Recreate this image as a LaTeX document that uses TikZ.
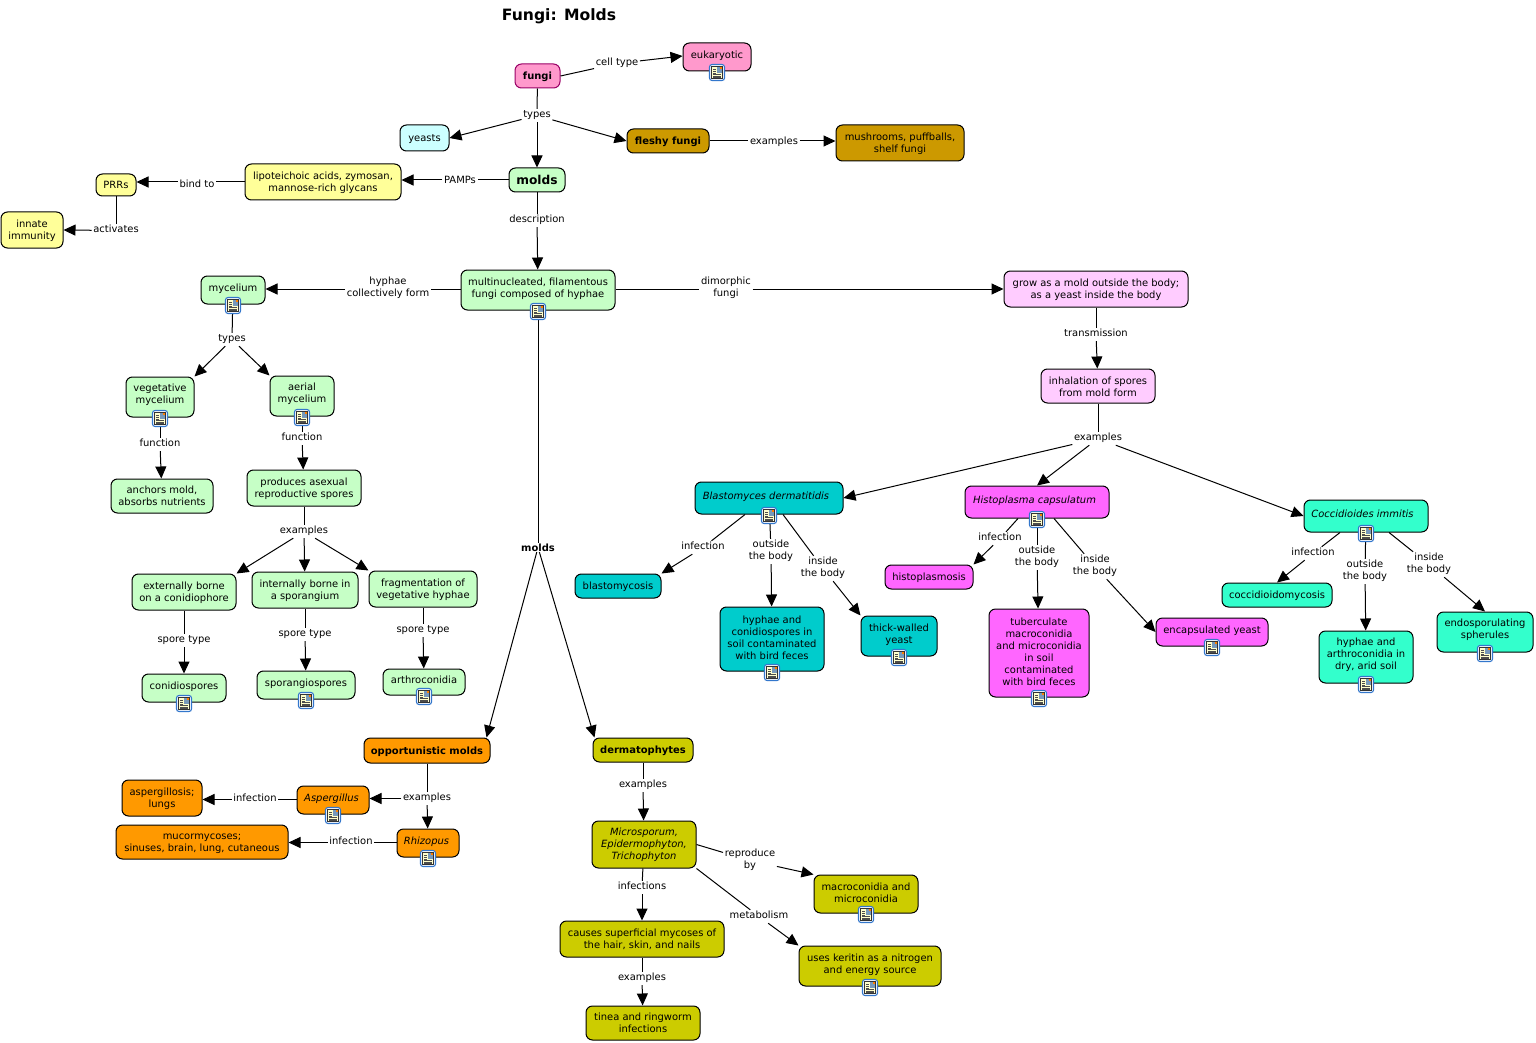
\documentclass[tikz,border=0pt]{standalone}
\usepackage{fontspec}
\setmainfont{DejaVu Sans}
\usetikzlibrary{arrows.meta,calc}
\definecolor{cpink}{HTML}{FF99CC}
\definecolor{cgreen}{HTML}{C6FFC6}
\definecolor{cyel}{HTML}{FFFF99}
\definecolor{ccyan}{HTML}{CCFFFF}
\definecolor{cgold}{HTML}{CC9900}
\definecolor{clil}{HTML}{FFCCFF}
\definecolor{cteal}{HTML}{00CCCC}
\definecolor{cmag}{HTML}{FF66FF}
\definecolor{cmint}{HTML}{33FFCC}
\definecolor{corg}{HTML}{FF9900}
\definecolor{coli}{HTML}{CCCC00}
\definecolor{icb}{HTML}{3377CC}
\definecolor{icy}{HTML}{FFFFCC}
\definecolor{icp}{HTML}{7799BB}
\newcommand\bodyfont{\fontsize{9.95}{12}\selectfont}
% extra room under the text of a box with an icon, over the text of one without
\newcommand\rs{1.5pt}
\newcommand\ls{2pt}
\tikzset{
 box/.style={draw=black,line width=1pt,rounded corners=6.5pt,inner sep=0pt,font=\bodyfont,text=black},
 lab/.style={inner xsep=1.5pt,inner ysep=0.5pt,yshift=-1.5pt,font=\bodyfont,text=black},
 plain/.style={draw=black,line width=1pt},
 arr/.style={draw=black,line width=1pt,-{Triangle[length=12pt,width=11pt]}},
 docicon/.pic={
  \draw[icb,fill=white,line width=1.1pt,rounded corners=2.5pt] (-7.5,-8) rectangle (7.5,8);
  \draw[black!80,fill=icy,line width=.6pt] (-5.3,-6) rectangle (5.3,6);
  \fill[icp] (-0.3,-5.3) rectangle (4.7,0.3);
  \fill[orange] (2.7,-5.3) rectangle (4.7,-3.3);
  \foreach \yy in {-3.6,-1.6,0.4}{\draw[black!70,line width=.5pt] (-4,\yy) -- (-1,\yy);}
  \foreach \yy in {2,3.5,5}{\draw[black!70,line width=.5pt] (-4,\yy) -- (4,\yy);}
 }
}
\newcommand\nd[7][]{%
 \pgfmathsetmacro\cx{(#3+#5)/2}\pgfmathsetmacro\cy{(#4+#6)/2}%
 \pgfmathsetmacro\ww{#5-#3}\pgfmathsetmacro\hh{#6-#4}%
 \node[box,minimum width=\ww pt,minimum height=\hh pt,#1] (#2) at (\cx,\cy) {\raisebox{0pt}[\dimexpr\height+\ls\relax][\depth]{\begin{tabular}{@{}c@{}}#7\end{tabular}}};}
\newcommand\ndi[7][]{%
 \pgfmathsetmacro\cx{(#3+#5)/2}\pgfmathsetmacro\cy{(#4+#6)/2}%
 \pgfmathsetmacro\ww{#5-#3}\pgfmathsetmacro\hh{#6-#4}%
 \node[box,minimum width=\ww pt,minimum height=\hh pt,#1] (#2) at (\cx,\cy) {\raisebox{0pt}[\height][\dimexpr\depth+\rs\relax]{\begin{tabular}{@{}c@{}}#7\end{tabular}}};}
\newcommand\lb[4]{\node[lab] (#1) at (#2,#3) {\begin{tabular}{@{}c@{}}#4\end{tabular}};}
\newcommand\ico[1]{\pic at ($(#1.south)+(0,1)$) {docicon};}
\newcommand\lk[3]{\draw[plain] (#1) -- (#2);\draw[arr] (#2) -- (#3);}
\begin{document}
\begin{tikzpicture}[x=1pt,y=-1pt]
\useasboundingbox[fill=white] (0,0) rectangle (1536,1043);
\node[font=\fontsize{15.6}{18}\selectfont\bfseries,inner sep=0pt] (title) at (559,16) {Fungi: Molds};
% top
\nd[fill=cpink,draw={rgb,255:red,153;green,0;blue,102},font=\bodyfont\bfseries]{fungi}{515}{64}{560}{88}{fungi}
\ndi[fill=cpink]{euk}{683}{43}{751}{71}{eukaryotic}
\nd[fill=ccyan]{yeasts}{400}{125}{449}{151}{yeasts}
\nd[fill=cgold,font=\bodyfont\bfseries]{fleshy}{627}{129}{709}{153}{fleshy fungi}
\nd[fill=cgold]{mush}{836}{125}{964}{161}{mushrooms, puffballs,\\shelf fungi}
\renewcommand\ls{4pt}
\nd[fill=cgreen,font=\fontsize{12.2}{14}\selectfont\bfseries]{molds}{509}{168}{565}{192}{molds}
\renewcommand\ls{2pt}
\nd[fill=cyel]{lipo}{245}{164}{401}{200}{lipoteichoic acids, zymosan,\\mannose-rich glycans}
\nd[fill=cyel]{prrs}{96}{174}{136}{196}{PRRs}
\nd[fill=cyel]{innate}{1}{212}{63}{248}{innate\\immunity}
\ndi[fill=cgreen]{multi}{461}{270}{615}{310}{multinucleated, filamentous\\fungi composed of hyphae}
% left green
\ndi[fill=cgreen]{myc}{201}{276}{265}{304}{mycelium}
\renewcommand\rs{4pt}
\ndi[fill=cgreen]{veg}{126}{377}{194}{417}{vegetative\\mycelium}
\ndi[fill=cgreen]{aer}{270}{376}{334}{416}{aerial\\mycelium}
\renewcommand\rs{1.5pt}
\nd[fill=cgreen]{anch}{111}{479}{213}{513}{anchors mold,\\absorbs nutrients}
\nd[fill=cgreen]{prod}{247}{470}{361}{506}{produces asexual\\reproductive spores}
\nd[fill=cgreen]{ext}{132}{574}{236}{610}{externally borne\\on a conidiophore}
\nd[fill=cgreen]{inte}{252}{572}{358}{608}{internally borne in\\a sporangium}
\nd[fill=cgreen]{frag}{369}{571}{477}{607}{fragmentation of\\vegetative hyphae}
\ndi[fill=cgreen]{coni}{142}{674}{226}{702}{conidiospores}
\ndi[fill=cgreen]{spor}{257}{671}{355}{699}{sporangiospores}
\ndi[fill=cgreen]{arth}{383}{669}{465}{695}{arthroconidia}
% right
\nd[fill=clil]{grow}{1004}{271}{1188}{307}{grow as a mold outside the body;\\as a yeast inside the body}
\renewcommand\ls{4pt}
\nd[fill=clil]{inh}{1041}{369}{1155}{403}{inhalation of spores\\from mold form}
\renewcommand\ls{2pt}
\ndi[fill=cteal,font=\bodyfont\itshape]{blast}{695}{482}{843}{514}{Blastomyces dermatitidis\kern6pt}
\ndi[fill=cmag,font=\bodyfont\itshape]{histo}{965}{486}{1109}{518}{Histoplasma capsulatum\kern5pt}
\ndi[fill=cmint,font=\bodyfont\itshape]{cocc}{1304}{500}{1428}{532}{Coccidioides immitis\kern7pt}
\nd[fill=cteal]{bmy}{575}{574}{661}{598}{blastomycosis}
\renewcommand\rs{0pt}
\ndi[fill=cteal]{hy1}{720}{607}{824}{671}{hyphae and\\conidiospores in\\soil contaminated\\with bird feces}
\renewcommand\rs{1.5pt}
\ndi[fill=cteal]{thick}{861}{616}{937}{656}{thick-walled\\yeast}
\nd[fill=cmag]{hmy}{885}{565}{973}{589}{histoplasmosis}
\renewcommand\rs{0pt}
\ndi[fill=cmag]{tub}{989}{609}{1089}{697}{tuberculate\\macroconidia\\and microconidia\\in soil\\contaminated\\with bird feces}
\renewcommand\rs{1.5pt}
\ndi[fill=cmag]{enc}{1156}{618}{1268}{646}{encapsulated yeast}
\nd[fill=cmint]{cmy}{1222}{583}{1332}{607}{coccidioidomycosis}
\renewcommand\rs{4pt}
\ndi[fill=cmint]{hy3}{1319}{631}{1413}{683}{hyphae and\\arthroconidia in\\dry, arid soil}
\ndi[fill=cmint]{endo}{1437}{612}{1533}{652}{endosporulating\\spherules}
\renewcommand\rs{1.5pt}
% bottom
\renewcommand\ls{4pt}
\nd[fill=corg,font=\bodyfont\bfseries]{opp}{364}{738}{490}{763}{opportunistic molds}
\renewcommand\ls{2pt}
\nd[fill=coli,font=\bodyfont\bfseries]{derm}{593}{738}{693}{762}{dermatophytes}
\ndi[fill=corg,font=\bodyfont\itshape]{aspg}{297}{786}{369}{814}{Aspergillus\kern3pt}
\ndi[fill=corg,font=\bodyfont\itshape]{rhiz}{397}{829}{459}{857}{Rhizopus\kern3pt}
\nd[fill=corg]{aspi}{122}{780}{202}{816}{aspergillosis;\\lungs}
\nd[fill=corg]{muco}{116}{825}{288}{859}{mucormycoses;\\sinuses, brain, lung, cutaneous}
\nd[fill=coli,font=\bodyfont\itshape]{micr}{592}{821}{696}{868}{Microsporum,\\Epidermophyton,\\Trichophyton}
\renewcommand\rs{0pt}
\ndi[fill=coli]{macr}{814}{875}{918}{913}{macroconidia and\\microconidia}
\renewcommand\rs{1.5pt}
\nd[fill=coli]{caus}{560}{921}{724}{957}{causes superficial mycoses of\\the hair, skin, and nails}
\ndi[fill=coli]{uses}{799}{946}{941}{986}{uses keritin as a nitrogen\\and energy source}
\nd[fill=coli]{tin}{586}{1006}{700}{1040}{tinea and ringworm\\infections}
% labels
\lb{l1}{617}{62}{cell type}
\lb{l2}{537}{114}{types}
\lb{l3}{774}{141}{examples}
\lb{l4}{460}{180}{PAMPs}
\lb{l5}{197}{184}{bind to}
\lb{l6}{116}{229}{activates}
\lb{l7}{537}{219}{description}
\lb{l8}{388}{287}{hyphae\\collectively form}
\lb{l9}{726}{287}{dimorphic\\fungi}
\lb{l10}{232}{338}{types}
\lb{l11}{160}{443}{function}
\lb{l12}{302}{437}{function}
\lb{l13}{304}{530}{examples}
\lb{l14}{184}{639}{spore type}
\lb{l15}{305}{633}{spore type}
\lb{l16}{423}{629}{spore type}
\lb{l17}{1096}{333}{transmission}
\lb{l18}{1098}{437}{examples}
\lb{l19}{703}{546}{infection}
\lb{l20}{771}{550}{outside\\the body}
\lb{l21}{823}{567}{inside\\the body}
\lb{l22}{1000}{537}{infection}
\lb{l23}{1037}{556}{outside\\the body}
\lb{l24}{1095}{565}{inside\\the body}
\lb{l25}{1313}{552}{infection}
\lb{l26}{1365}{570}{outside\\the body}
\lb{l27}{1429}{563}{inside\\the body}
\node[lab,font=\bodyfont\bfseries] (l28) at (538,546) {molds};
\lb{l29}{427}{797}{examples}
\lb{l30}{255}{798}{infection}
\lb{l31}{351}{841}{infection}
\lb{l32}{643}{784}{examples}
\lb{l33}{750}{859}{reproduce\\by}
\lb{l34}{759}{915}{metabolism}
\lb{l35}{642}{886}{infections}
\lb{l36}{642}{977}{examples}
% connector guide points
\coordinate (mw) at ($(multi.west)+(0,-1)$);
\coordinate (me) at ($(multi.east)+(0,-1)$);
% connectors
\draw[plain] (fungi.east) -- (l1);
\draw[arr] (l1) -- ($(euk.west)+(0,-1)$);
\draw[plain] (fungi) -- (l2);
\draw[arr] (l2) -- (yeasts.east);
\draw[arr] (l2) -- (molds);
\draw[arr] (l2) -- (fleshy.west);
\draw[plain] (fleshy.east) -- (l3.west |- fleshy.east);
\draw[arr] (l3.east |- fleshy.east) -- (mush.west |- fleshy.east);
\draw[plain] (molds.west) -- (l4.east |- molds.west);
\draw[arr] (l4.west |- molds.west) -- (lipo.east |- molds.west);
\draw[plain] (lipo.west) -- (l5.east |- lipo.west);
\draw[arr] (l5.west |- lipo.west) -- (prrs.east |- lipo.west);
\draw[plain] (prrs) -- (l6);
\draw[arr] (l6) -- (innate.east);
\lk{molds}{l7}{multi}
\draw[plain] (mw) -- (l8.east |- mw);
\draw[arr] (l8.west |- mw) -- (myc.east |- mw);
\draw[plain] (me) -- (l9.west |- me);
\draw[arr] (l9.east |- me) -- (grow.west |- me);
\draw[plain] (myc) -- (l10);
\draw[arr] (l10) -- (veg.north east);
\draw[arr] (l10) -- (aer.north west);
\lk{veg}{l11}{anch}
\lk{aer}{l12}{prod}
\draw[plain] (prod) -- (l13);
\draw[arr] (l13) -- (ext.north east);
\draw[arr] (l13) -- (inte);
\draw[arr] (l13) -- (frag.north west);
\lk{ext}{l14}{coni}
\lk{inte}{l15}{spor}
\lk{frag}{l16}{arth}
\lk{grow}{l17}{inh}
\draw[plain] (inh) -- (l18);
\draw[arr] (l18) -- (blast.east);
\draw[arr] (l18) -- (histo.north);
\draw[arr] (l18) -- (cocc.west);
\draw[plain] ($(blast.south)+(-24,0)$) -- (l19);
\draw[arr] (l19) -- (bmy.north east);
\lk{blast}{l20}{hy1}
\draw[plain] ($(blast.south)+(14,0)$) -- (l21);
\draw[arr] (l21) -- (thick.north west);
\draw[plain] ($(histo.south)+(-19,0)$) -- (l22);
\draw[arr] (l22) -- (hmy.north east);
\lk{histo}{l23}{tub}
\draw[plain] ($(histo.south)+(17,0)$) -- (l24);
\draw[arr] (l24) -- (enc.west);
\draw[plain] ($(cocc.south)+(-26,0)$) -- (l25);
\draw[arr] (l25) -- (cmy.north);
\lk{cocc}{l26}{hy3}
\draw[plain] ($(cocc.south)+(23,0)$) -- (l27);
\draw[arr] (l27) -- (endo.north);
\draw[plain] (multi) -- (l28);
\draw[arr] (l28) -- ($(opp.north east)+(-4,0)$);
\draw[arr] (l28) -- ($(derm.north west)+(2,0)$);
\draw[plain] (opp) -- (l29);
\draw[arr] (l29.west) -- (aspg.east |- l29.west);
\draw[arr] (l29) -- (rhiz);
\draw[plain] (aspg.west |- l30.east) -- (l30.east);
\draw[arr] (l30.west) -- (aspi.east |- l30.west);
\draw[plain] (rhiz.west |- l31.east) -- (l31.east);
\draw[arr] (l31.west) -- (muco.east |- l31.west);
\lk{derm}{l32}{micr}
\draw[plain] (micr.east) -- (l33);
\draw[arr] (l33) -- (macr.north west);
\draw[plain] (micr.south east) -- (l34);
\draw[arr] (l34) -- (uses.north west);
\lk{micr}{l35}{caus}
\lk{caus}{l36}{tin}
% document icons
\foreach \n in {euk,multi,myc,veg,aer,coni,spor,arth,blast,histo,cocc,hy1,thick,tub,enc,hy3,endo,aspg,rhiz,macr,uses}{\ico{\n}}
\end{tikzpicture}
\end{document}
